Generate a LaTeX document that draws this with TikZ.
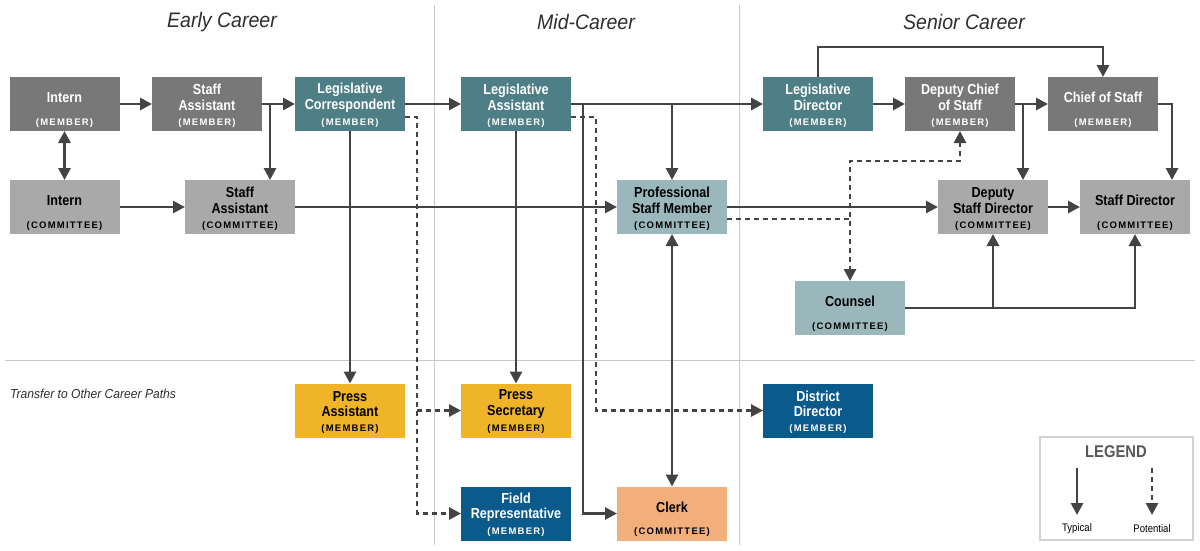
\documentclass[tikz,border=0pt]{standalone}
\usepackage{fontspec}
\setmainfont{Liberation Sans}
\newfontfamily\condfont[FakeStretch=0.87]{Liberation Sans}
\newfontfamily\tagfont[LetterSpace=13]{Liberation Sans}
\newfontfamily\headfont[FakeStretch=0.93]{Liberation Sans}
\usetikzlibrary{arrows.meta,calc}

\definecolor{mgray}{HTML}{787878}
\definecolor{cgray}{HTML}{A9A9A9}
\definecolor{teal}{HTML}{4F7F86}
\definecolor{lteal}{HTML}{9AB7BC}
\definecolor{gold}{HTML}{F0B429}
\definecolor{navy}{HTML}{0B5A8C}
\definecolor{peach}{HTML}{F2AE7B}
\definecolor{linec}{HTML}{434343}
\definecolor{sepc}{HTML}{C8C8C8}
\definecolor{legc}{HTML}{D2D2D2}
\definecolor{headc}{HTML}{2E2E2E}

\tikzset{
  box/.style={draw=none, minimum width=110pt, minimum height=54pt, inner sep=0pt, outer sep=0pt},
  ttl/.style={inner sep=0pt, align=center, font=\condfont\bfseries\fontsize{14.5}{15.5}\selectfont},
  tag/.style={inner sep=0pt, font=\tagfont\bfseries\fontsize{9.5}{10}\selectfont},
  plain/.style={draw=linec, line width=2.8pt},
  arr/.style={plain, -{Triangle[length=12pt,width=12pt]}},
  twoway/.style={plain, {Triangle[length=12pt,width=12pt]}-{Triangle[length=12pt,width=12pt]}},
  pot/.style={plain, dash pattern=on 5pt off 4pt},
  potarr/.style={pot, -{Triangle[length=12pt,width=12pt]}},
  pottwo/.style={pot, {Triangle[length=12pt,width=12pt]}-{Triangle[length=12pt,width=12pt]}},
  sep/.style={draw=sepc, line width=1pt},
  head/.style={inner sep=0pt, text=headc, font=\headfont\itshape\fontsize{21}{24}\selectfont},
}

% #1 name, #2 x, #3 y, #4 fill, #5 text colour, #6 title, #7 tag
\newcommand{\postbox}[7]{%
  \node[box, fill=#4] (#1) at (#2,#3) {};
  \node[ttl, text=#5] (#1-t) at ([yshift=-20.5pt]#1.north) {#6};
  \node[tag, text=#5] (#1-s) at ([yshift=8pt]#1.south) {#7};
}

\begin{document}
\begin{tikzpicture}[x=1pt, y=-1pt]
\useasboundingbox (0,0) rectangle (1200,550);

% column and row separators
\draw[sep] (434,5) -- (434,545);
\draw[sep] (739,5) -- (739,545);
\draw[sep] (5,360) -- (1195,360);

% column headings
\node[head] (hearly) at (222,22) {Early Career};
\node[head] (hmid) at (586,22) {Mid-Career};
\node[head] (hsenior) at (964,22) {Senior Career};
\node[anchor=west, inner sep=0pt, text=headc, font=\headfont\itshape\fontsize{13}{15}\selectfont] (transfer) at (10,394) {Transfer to Other Career Paths};

% member offices, top row
\postbox{im}{64.5}{104}{mgray}{white}{Intern}{(MEMBER)}
\postbox{sam}{207}{104}{mgray}{white}{Staff\\Assistant}{(MEMBER)}
\postbox{lc}{350}{104}{teal}{white}{Legislative\\Correspondent}{(MEMBER)}
\postbox{la}{516}{104}{teal}{white}{Legislative\\Assistant}{(MEMBER)}
\postbox{ld}{818}{104}{teal}{white}{Legislative\\Director}{(MEMBER)}
\postbox{dcs}{960}{104}{mgray}{white}{Deputy Chief\\of Staff}{(MEMBER)}
\postbox{cos}{1103}{104}{mgray}{white}{Chief of Staff}{(MEMBER)}

% committee row
\postbox{ic}{64.5}{207}{cgray}{black}{Intern}{(COMMITTEE)}
\postbox{sac}{240}{207}{cgray}{black}{Staff\\Assistant}{(COMMITTEE)}
\postbox{psm}{672}{207}{lteal}{black}{Professional\\Staff Member}{(COMMITTEE)}
\postbox{dsd}{993}{207}{cgray}{black}{Deputy\\Staff Director}{(COMMITTEE)}
\postbox{sd}{1135}{207}{cgray}{black}{Staff Director}{(COMMITTEE)}
\postbox{co}{850}{308}{lteal}{black}{Counsel}{(COMMITTEE)}

% other career paths
\postbox{pa}{350}{410.5}{gold}{black}{Press\\Assistant}{(MEMBER)}
\postbox{ps}{516}{410.5}{gold}{black}{Press\\Secretary}{(MEMBER)}
\postbox{dd}{818}{410.5}{navy}{white}{District\\Director}{(MEMBER)}
\postbox{fr}{516}{513.5}{navy}{white}{Field\\Representative}{(MEMBER)}
\postbox{cl}{672}{513.5}{peach}{black}{Clerk}{(COMMITTEE)}

% typical moves
\draw[arr] (im.east) -- (sam.west);
\draw[arr] (sam.east) -- (lc.west);
\draw[arr] ([xshift=8pt]sam.east) -- ([xshift=8pt]sam.east |- sac.north);
\draw[twoway] (im.south) -- (ic.north);
\draw[arr] (ic.east) -- (sac.west);
\draw[arr] (sac.east) -- (psm.west);
\draw[arr] (lc.east) -- (la.west);
\draw[arr] (lc.south) -- (pa.north);
\draw[arr] (la.south) -- (ps.north);
\draw[arr] (la.east) -- (ld.west);
\draw[arr] (la.east -| psm.north) -- (psm.north);
\draw[arr] ([xshift=12pt]la.east) |- (cl.west);
\draw[twoway] (psm.south) -- (cl.north);
\draw[arr] (psm.east) -- (dsd.west);
\draw[arr] (ld.east) -- (dcs.west);
\draw[arr] (dcs.east) -- (cos.west);
\draw[arr] ([xshift=8pt]dcs.east) -- ([xshift=8pt]dcs.east |- dsd.north);
\draw[arr] (ld.north) -- ++(0,-30) -| (cos.north);
\coordinate (cosbend) at ([xshift=14pt]cos.east);
\draw[arr] (cos.east) -- (cosbend) -- (cosbend |- sd.north);
\draw[arr] (dsd.east) -- (sd.west);
\draw[arr] (co.east) -| (sd.south);
\draw[arr] (co.east -| dsd.south) -- (dsd.south);

% potential moves
\coordinate (lcdrop) at ([xshift=12pt,yshift=-13pt]lc.east);
\draw[potarr] ([yshift=-13pt]lc.east) -- (lcdrop) |- (fr.west);
\draw[potarr] (lcdrop |- ps.west) -- (ps.west);
\coordinate (ladrop) at ([xshift=25pt,yshift=-13pt]la.east);
\draw[potarr] ([yshift=-13pt]la.east) -- (ladrop) |- (dd.west);
\coordinate (cobend) at ([yshift=-30pt]dcs.south -| co.north);
\draw[pottwo] (dcs.south) |- (cobend) -- (co.north);
\draw[pot] ([yshift=-12pt]psm.east) -- ([yshift=-12pt]psm.east -| co.north);

% legend
\node[draw=legc, line width=1.2pt, minimum width=153pt, minimum height=103pt, inner sep=0pt] (legend) at (1116.5,488.5) {};
\node[inner sep=0pt, text=headc!80, font=\condfont\bfseries\fontsize{17}{19}\selectfont] (legtitle) at (1116,452) {LEGEND};
\coordinate (typa) at (1077,468);
\coordinate (typb) at (1077,515);
\coordinate (pota) at (1152,468);
\coordinate (potb) at (1152,515);
\draw[arr] (typa) -- (typb);
\draw[potarr] (pota) -- (potb);
\node[inner sep=0pt, font=\condfont\fontsize{11}{13}\selectfont] (typtext) at (1077,529) {Typical};
\node[inner sep=0pt, font=\condfont\fontsize{11}{13}\selectfont] (pottext) at (1152,529) {Potential};
\end{tikzpicture}
\end{document}
